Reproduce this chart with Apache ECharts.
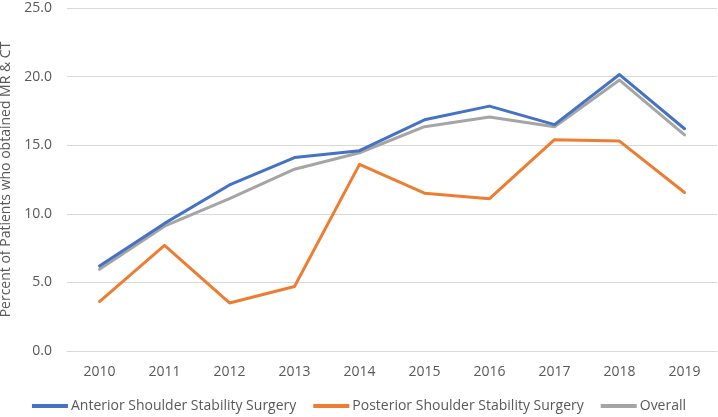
<!DOCTYPE html>
<html><head><meta charset="utf-8">
<script src="https://cdn.jsdelivr.net/npm/echarts@6/dist/echarts.min.js"></script>
<style>html,body{margin:0;padding:0;background:#fff}#c{width:718px;height:417px}</style>
</head><body><div id="c"></div>
<script>
var years = ['2010','2011','2012','2013','2014','2015','2016','2017','2018','2019'];
var anterior = [6.2, 9.3, 12.1, 14.1, 14.6, 16.85, 17.85, 16.5, 20.15, 16.2];
var posterior = [3.6, 7.7, 3.5, 4.7, 13.6, 11.5, 11.1, 15.4, 15.3, 11.55];
var overall = [5.95, 9.1, 11.1, 13.25, 14.45, 16.35, 17.05, 16.35, 19.75, 15.75];
var seriesNames = ['Anterior Shoulder Stability Surgery','Posterior Shoulder Stability Surgery','Overall'];
var colors = ['#4472C4','#ED7D31','#A5A5A5'];
var font = 'Open Sans, Liberation Sans, sans-serif';
var chart = echarts.init(document.getElementById('c'));
function mk(i, data){
  return {name: seriesNames[i], type:'line', data:data, symbol:'none', smooth:false,
    lineStyle:{width:3, color:colors[i], cap:'round', join:'round'}, itemStyle:{color:colors[i]}};
}
chart.setOption({
  animation:false,
  backgroundColor:'#fff',
  grid:{left:67, right:1, top:8, bottom:66, containLabel:false, outerBoundsMode:'none'},
  legend:{bottom:-1, left:'center', icon:'rect', itemWidth:36, itemHeight:4, itemGap:17,
    textStyle:{color:'#595959', fontSize:14, fontFamily:font, padding:[0,0,0,-2]},
    data:seriesNames},
  xAxis:{type:'category', data:years, boundaryGap:true,
    axisLine:{show:true, lineStyle:{color:'#D9D9D9', width:1}}, axisTick:{show:false},
    axisLabel:{color:'#595959', fontSize:14, fontFamily:font, margin:14}},
  yAxis:{type:'value', min:0, max:25, interval:5,
    name:'Percent of Patients who obtained MR & CT', nameLocation:'middle', nameGap:42,
    nameTextStyle:{color:'#595959', fontSize:14, fontFamily:font},
    axisLine:{show:false}, axisTick:{show:false},
    splitLine:{lineStyle:{color:'#D9D9D9', width:1}},
    axisLabel:{color:'#595959', fontSize:14, fontFamily:font, margin:15, formatter:function(v){return v.toFixed(1);}}},
  series:[mk(1, posterior), mk(2, overall), mk(0, anterior)].map(function(s,idx){s.z=idx+2;return s;})
});
</script></body></html>
